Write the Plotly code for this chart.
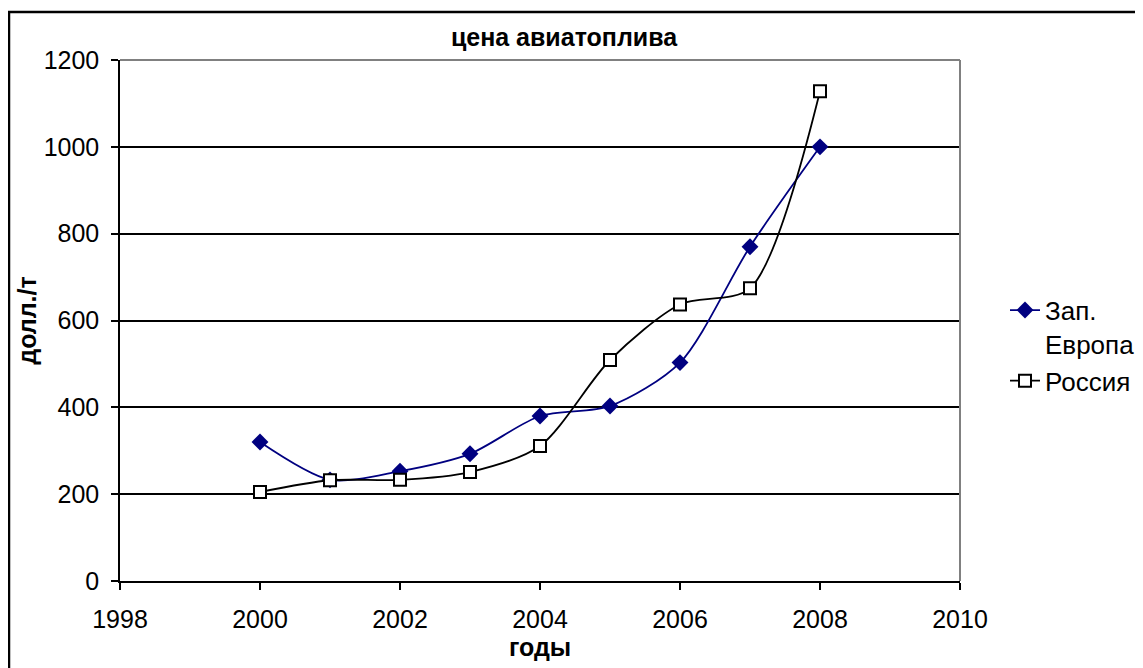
import plotly.graph_objects as go

years = [2000, 2001, 2002, 2003, 2004, 2005, 2006, 2007, 2008]
europe = [320, 233, 253, 293, 380, 403, 503, 770, 1000]
russia = [205, 232, 233, 251, 311, 509, 637, 674, 1128]

title_text = "цена авиатоплива"
x_title = "годы"
y_title = "долл./т"
names = ["Зап.<br>Европа", "Россия"]
x_ticks = [1998, 2000, 2002, 2004, 2006, 2008, 2010]
y_ticks = [0, 200, 400, 600, 800, 1000, 1200]

FONT = "Liberation Sans, Arial, sans-serif"

W, H = 1135, 660
L, R, T, B = 112, 183, 52, 87
PW, PH = W - L - R, H - T - B  # 840 x 521

fig = go.Figure()
fig.add_trace(go.Scatter(
    x=years, y=europe, name=names[0], mode="lines+markers",
    line=dict(color="#000080", width=1.8, shape="spline", smoothing=0.8),
    marker=dict(symbol="diamond", size=13, color="#000080"),
))
fig.add_trace(go.Scatter(
    x=years, y=russia, name=names[1], mode="lines+markers",
    line=dict(color="#000000", width=1.8, shape="spline", smoothing=0.8),
    marker=dict(symbol="square", size=12, color="white",
                line=dict(color="black", width=2)),
))

fig.update_layout(
    width=W, height=H,
    margin=dict(l=L, r=R, t=T, b=B, autoexpand=False),
    paper_bgcolor="white", plot_bgcolor="white",
    font=dict(family=FONT, size=25, color="black"),
    title=dict(text="<b>" + title_text + "</b>", x=556 / W, xanchor="center",
               xref="container", y=1 - 29 / H, yanchor="middle", yref="container",
               font=dict(size=25)),
    legend=dict(x=(1005 - 8 - L) / PW, y=0.565, xanchor="left", yanchor="top",
                font=dict(size=26), bgcolor="rgba(0,0,0,0)", valign="top"),
    xaxis=dict(range=[1998, 2010], tickvals=x_ticks, automargin=False,
               showgrid=False, zeroline=False, showline=True, linecolor="black",
               linewidth=1.5, ticks="outside", ticklen=7, tickcolor="black",
               tickwidth=1.5, tickfont=dict(size=25), ticklabelstandoff=8,
               title=dict(text="<b>" + x_title + "</b>", font=dict(size=25), standoff=2)),
    yaxis=dict(range=[0, 1200], tickvals=y_ticks, automargin=False,
               showgrid=True, gridcolor="black", gridwidth=1.5, zeroline=False,
               showline=True, linecolor="black", linewidth=1.5,
               ticks="outside", ticklen=7, tickcolor="black", tickwidth=1.5,
               tickfont=dict(size=25), ticklabelstandoff=7,
               title=dict(text="<b>" + y_title + "</b>", font=dict(size=25), standoff=0)),
    shapes=[
        dict(type="line", xref="paper", yref="paper", x0=0, x1=1, y0=1, y1=1,
             line=dict(color="#808080", width=2), layer="above"),
        dict(type="line", xref="paper", yref="paper", x0=1, x1=1, y0=0, y1=1,
             line=dict(color="#808080", width=2), layer="above"),
        dict(type="rect", xref="paper", yref="paper",
             x0=(9 - 8 - L) / PW, x1=(1220 - L) / PW,
             y0=(T + PH - 720) / PH, y1=(T + PH - (12 - 8)) / PH,
             line=dict(color="black", width=2.5), layer="below"),
    ],
)

fig.write_html("out.html")
